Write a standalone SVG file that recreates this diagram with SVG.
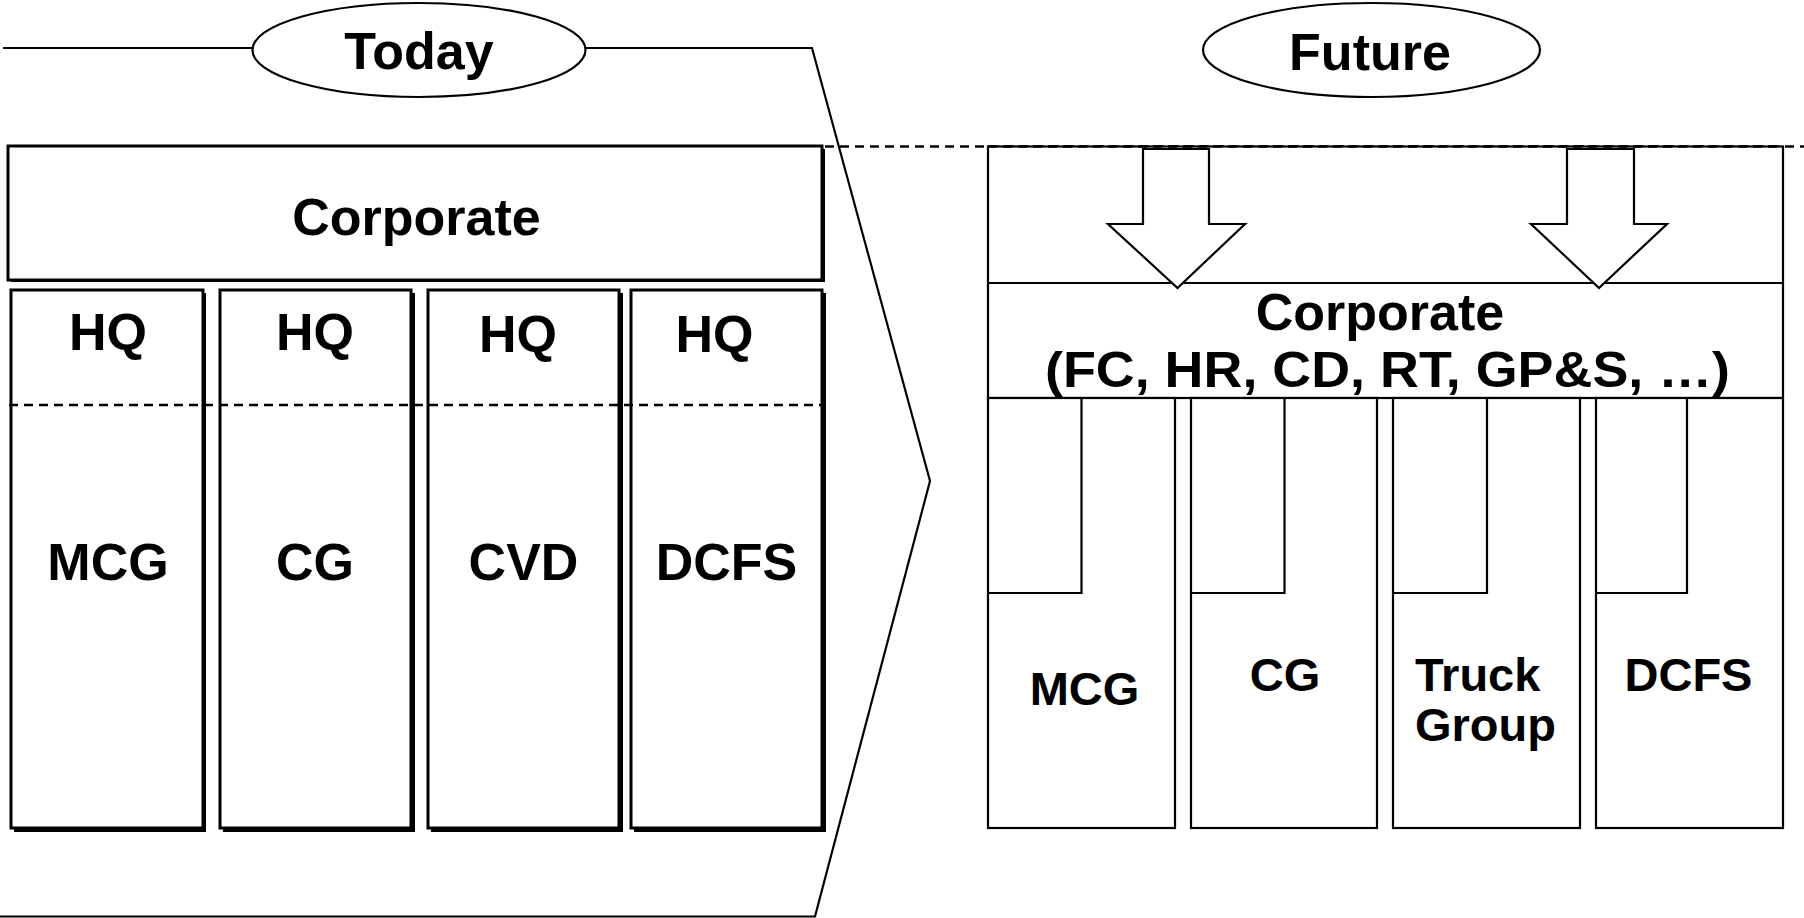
<svg xmlns="http://www.w3.org/2000/svg" width="1804" height="918" viewBox="0 0 1804 918">
<style>
  .t { font-family: "Liberation Sans", Arial, sans-serif; font-weight: bold; fill: #000; }
  .big { font-size: 52px; }
  .mid { font-size: 47px; }
  .box { fill: #fff; stroke: #000; stroke-width: 3; }
  .shadow { fill: #000; stroke: none; }
  .thin { fill: #fff; stroke: #000; stroke-width: 2.2; }
  .line { fill: none; stroke: #000; stroke-width: 2.2; }
  .dash { fill: none; stroke: #000; stroke-width: 2.5; stroke-dasharray: 9 6; }
</style>
<rect width="1804" height="918" fill="#fff"/>

<g id="frame">
  <path class="line" d="M3,48 H253 M586,48 H812 L930,481 L815,916.5 H0"/>
  <line class="dash" x1="825" y1="146.5" x2="1804" y2="146.5"/>
</g>

<g id="today-label">
  <ellipse class="thin" cx="419" cy="50" rx="166.5" ry="47"/>
  <text class="t big" x="419" y="69" text-anchor="middle">Today</text>
</g>

<g id="future-label">
  <ellipse class="thin" cx="1371.5" cy="50" rx="168.5" ry="47"/>
  <text class="t big" x="1370" y="70" text-anchor="middle">Future</text>
</g>

<g id="today-corporate">
  <rect class="shadow" x="11" y="149" width="814" height="133"/>
  <rect class="box" x="8" y="146" width="814" height="134"/>
  <text class="t big" x="416.5" y="235" text-anchor="middle">Corporate</text>
</g>

<g id="today-mcg">
  <rect class="shadow" x="14" y="293" width="192" height="539"/>
  <rect class="box" x="11" y="290" width="192" height="538"/>
  <text class="t big" x="108" y="350" text-anchor="middle">HQ</text>
  <text class="t big" x="108" y="580" text-anchor="middle">MCG</text>
</g>
<g id="today-cg">
  <rect class="shadow" x="223" y="293" width="192" height="539"/>
  <rect class="box" x="220" y="290" width="191" height="538"/>
  <text class="t big" x="315" y="350" text-anchor="middle">HQ</text>
  <text class="t big" x="315" y="580" text-anchor="middle">CG</text>
</g>
<g id="today-cvd">
  <rect class="shadow" x="431" y="293" width="192" height="539"/>
  <rect class="box" x="428" y="290" width="191" height="538"/>
  <text class="t big" x="518" y="352" text-anchor="middle">HQ</text>
  <text class="t big" x="523.5" y="580" text-anchor="middle">CVD</text>
</g>
<g id="today-dcfs">
  <rect class="shadow" x="634" y="293" width="192" height="539"/>
  <rect class="box" x="631" y="290" width="191" height="538"/>
  <text class="t big" x="714.5" y="352" text-anchor="middle">HQ</text>
  <text class="t big" x="726.5" y="580" text-anchor="middle">DCFS</text>
</g>
<line class="dash" x1="9" y1="405" x2="822" y2="405" stroke-dasharray="8 6"/>

<g id="future-box">
  <rect class="thin" x="988" y="146.5" width="795" height="251.5"/>
  <line class="line" x1="988" y1="283" x2="1783" y2="283"/>
  <line class="dash" x1="988" y1="146.5" x2="1783" y2="146.5"/>
</g>

<g id="future-mcg">
  <rect class="thin" x="988" y="398" width="187" height="430"/>
  <path class="line" d="M1081.5,398 V593 H988"/>
  <text class="t mid" x="1084.5" y="705" text-anchor="middle">MCG</text>
</g>
<g id="future-cg">
  <rect class="thin" x="1191" y="398" width="186" height="430"/>
  <path class="line" d="M1284.5,398 V593 H1191"/>
  <text class="t mid" x="1285" y="690.5" text-anchor="middle">CG</text>
</g>
<g id="future-truck">
  <rect class="thin" x="1393" y="398" width="187" height="430"/>
  <path class="line" d="M1487,398 V593 H1393"/>
  <text class="t mid" x="1415" y="690.5">Truck</text>
  <text class="t mid" x="1415" y="741">Group</text>
</g>
<g id="future-dcfs">
  <rect class="thin" x="1596" y="398" width="187" height="430"/>
  <path class="line" d="M1687,398 V593 H1596"/>
  <text class="t mid" x="1688.5" y="690.5" text-anchor="middle">DCFS</text>
</g>

<g id="future-corporate">
  <text class="t big" x="1380" y="330" text-anchor="middle">Corporate</text>
  <text class="t" font-size="50" x="1045" y="387" textLength="685" lengthAdjust="spacingAndGlyphs">(FC, HR, CD, RT, GP&amp;S, …)</text>
</g>

<g id="connectors">
  <polygon class="thin" points="1143,149 1209,149 1209,224 1245,224 1177.5,288 1108,224 1143,224"/>
  <polygon class="thin" points="1567,149 1634,149 1634,224 1667,224 1599,288 1531,224 1567,224"/>
</g>
</svg>
